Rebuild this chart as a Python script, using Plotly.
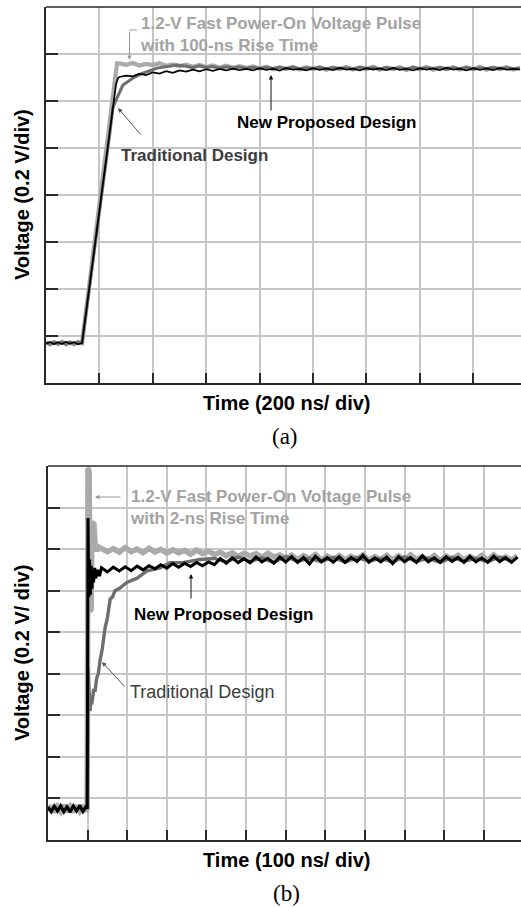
import plotly.graph_objects as go

W, H = 521, 907

# ---------------- (a) 100-ns rise time : 200 ns/div, 0.2 V/div ----------------
a_base_t = [0, 15, 30, 45, 60, 75, 90, 105, 120, 135]
a_tail_t = [275, 300, 325, 350, 375, 400, 425, 450, 475, 500,
            525, 550, 575, 600, 625, 650, 675, 700, 725, 750,
            775, 800, 825, 850, 875, 900, 925, 950, 975, 1000,
            1025, 1050, 1075, 1100, 1125, 1150, 1175, 1200, 1225, 1250,
            1275, 1300, 1325, 1350, 1375, 1400, 1425, 1450, 1475, 1500,
            1525, 1550, 1575, 1600, 1625, 1650, 1675, 1700, 1725, 1750, 1775]

# input pulse (light grey)
a_in_base = [0.004, -0.006, 0.005, -0.004, 0.006, -0.005, 0.003, -0.006, 0.005, 0.0]
a_in_rise_t = [266]
a_in_rise_v = [1.19]
a_in_tail = [1.190, 1.184, 1.192, 1.181, 1.188, 1.183, 1.191, 1.180, 1.186, 1.179,
             1.185, 1.176, 1.183, 1.174, 1.181, 1.172, 1.180, 1.171, 1.178, 1.170,
             1.177, 1.168, 1.176, 1.165, 1.174, 1.167, 1.175, 1.164, 1.173, 1.166,
             1.174, 1.163, 1.172, 1.166, 1.175, 1.164, 1.173, 1.165, 1.176, 1.163,
             1.172, 1.166, 1.174, 1.162, 1.173, 1.165, 1.175, 1.163, 1.172, 1.166,
             1.174, 1.164, 1.173, 1.165, 1.176, 1.163, 1.172, 1.167, 1.174, 1.164, 1.171]

# new proposed design (black)
a_new_base = [-0.003, 0.005, -0.005, 0.004, -0.004, 0.006, -0.003, 0.004, -0.005, 0.0]
a_new_rise_t = [262, 270]
a_new_rise_v = [1.10, 1.128]
a_new_tail = [1.132, 1.138, 1.135, 1.146, 1.140, 1.152, 1.147, 1.157, 1.150, 1.160,
              1.155, 1.163, 1.156, 1.165, 1.158, 1.166, 1.160, 1.168, 1.161, 1.167,
              1.160, 1.170, 1.162, 1.168, 1.159, 1.171, 1.163, 1.167, 1.160, 1.170,
              1.162, 1.169, 1.161, 1.172, 1.163, 1.168, 1.160, 1.170, 1.164, 1.169,
              1.161, 1.171, 1.162, 1.168, 1.160, 1.170, 1.163, 1.169, 1.161, 1.172,
              1.163, 1.168, 1.160, 1.170, 1.162, 1.169, 1.161, 1.171, 1.163, 1.167, 1.164]

# traditional design (dark grey)
a_trad_base = [0.002, -0.004, 0.004, -0.003, 0.003, -0.004, 0.004, -0.002, 0.003, 0.0]
a_trad_knee_t = [240, 251, 266, 288, 326, 363, 416, 491]
a_trad_knee_v = [0.90, 1.004, 1.043, 1.098, 1.128, 1.149, 1.170, 1.183]
a_trad_tail_t = [525, 550, 575, 600, 625, 650, 675, 700, 725, 750,
                 775, 800, 825, 850, 875, 900, 925, 950, 975, 1000,
                 1025, 1050, 1075, 1100, 1125, 1150, 1175, 1200, 1225, 1250,
                 1275, 1300, 1325, 1350, 1375, 1400, 1425, 1450, 1475, 1500,
                 1525, 1550, 1575, 1600, 1625, 1650, 1675, 1700, 1725, 1750, 1775]
a_trad_tail = [1.178, 1.172, 1.180, 1.173, 1.177, 1.170, 1.176, 1.171, 1.175, 1.169,
               1.174, 1.167, 1.173, 1.168, 1.172, 1.166, 1.174, 1.167, 1.171, 1.168,
               1.173, 1.166, 1.172, 1.167, 1.170, 1.165, 1.173, 1.168, 1.171, 1.166,
               1.172, 1.167, 1.170, 1.165, 1.173, 1.166, 1.171, 1.168, 1.172, 1.165,
               1.171, 1.167, 1.173, 1.166, 1.170, 1.168, 1.172, 1.165, 1.171, 1.167, 1.169]

# ---------------- (b) 2-ns rise time : 100 ns/div, 0.2 V/div ----------------
b_base_t = [0, 8, 16, 24, 32, 40, 48, 56, 64, 72, 80, 88, 96, 99]
b_tail_t = [135, 150, 165, 180, 195, 210, 225, 240, 255, 270,
            285, 300, 315, 330, 345, 360, 375, 390, 405, 420,
            435, 450, 465, 480, 495, 510, 525, 540, 555, 570,
            585, 600, 615, 630, 645, 660, 675, 690, 705, 720,
            735, 750, 765, 780, 795, 810, 825, 840, 855, 870,
            885, 900, 915, 930, 945, 960, 975, 990, 1005, 1020,
            1035, 1050, 1065, 1080, 1095, 1110, 1125, 1140, 1155, 1170, 1185]

b_in_base = [-0.012, 0.014, -0.016, 0.010, -0.013, 0.017, -0.014, 0.010, -0.016, 0.015, -0.010, 0.016, -0.012, 0.0]
b_in_edge_t = [101, 104, 106, 109, 111, 116, 119, 123, 128]
b_in_edge_v = [1.64, 1.62, 0.95, 0.96, 1.38, 1.37, 1.27, 1.24, 1.26]
b_in_tail = [1.255, 1.238, 1.252, 1.235, 1.257, 1.238, 1.250, 1.233, 1.254, 1.236,
             1.249, 1.231, 1.246, 1.232, 1.244, 1.226, 1.246, 1.228, 1.240, 1.224,
             1.235, 1.218, 1.232, 1.214, 1.230, 1.217, 1.228, 1.210, 1.230, 1.212,
             1.222, 1.203, 1.220, 1.200, 1.218, 1.204, 1.224, 1.196, 1.216, 1.200,
             1.219, 1.198, 1.215, 1.202, 1.222, 1.196, 1.214, 1.200, 1.220, 1.198,
             1.217, 1.196, 1.222, 1.200, 1.214, 1.197, 1.219, 1.195, 1.216, 1.201,
             1.220, 1.197, 1.215, 1.199, 1.219, 1.196, 1.222, 1.199, 1.213, 1.197, 1.217]

b_new_base = [0.008, -0.014, 0.012, -0.010, 0.015, -0.013, 0.009, -0.016, 0.013, -0.009, 0.016, -0.012, 0.010, 0.0]
b_new_edge_t = [101, 103, 105, 107, 109, 111, 113, 115, 118, 121, 125, 130]
b_new_edge_v = [1.40, 1.02, 1.20, 1.03, 1.17, 1.06, 1.15, 1.09, 1.16, 1.11, 1.15, 1.12]
b_new_tail = [1.160, 1.140, 1.163, 1.145, 1.165, 1.146, 1.168, 1.150, 1.170, 1.155,
              1.175, 1.158, 1.180, 1.163, 1.182, 1.166, 1.186, 1.170, 1.188, 1.175,
              1.205, 1.182, 1.208, 1.185, 1.204, 1.184, 1.212, 1.188, 1.206, 1.182,
              1.212, 1.188, 1.214, 1.186, 1.210, 1.178, 1.216, 1.190, 1.209, 1.187,
              1.213, 1.186, 1.210, 1.190, 1.220, 1.187, 1.208, 1.189, 1.212, 1.180,
              1.214, 1.190, 1.209, 1.186, 1.218, 1.189, 1.208, 1.187, 1.213, 1.191,
              1.210, 1.186, 1.215, 1.189, 1.207, 1.187, 1.216, 1.190, 1.209, 1.186, 1.211]

b_trad_base = [0.008, -0.012, 0.014, -0.010, 0.012, -0.015, 0.010, -0.008, 0.013, -0.011, 0.009, -0.013, 0.011, 0.0]
b_trad_edge_t = [101, 103, 106, 108, 111, 115, 119, 123, 127, 131, 137, 144, 150, 157,
                 163, 169, 180, 199, 225, 250, 283, 308, 340, 384]
b_trad_edge_v = [0.68, 0.54, 0.47, 0.51, 0.51, 0.57, 0.57, 0.63, 0.65, 0.71, 0.77, 0.87, 0.92, 1.01,
                 1.02, 1.05, 1.06, 1.09, 1.11, 1.145, 1.16, 1.185, 1.185, 1.20]
b_trad_tail_t = [420, 450, 480, 510, 540, 570, 600, 630, 660, 690, 720, 750, 780,
                 810, 840, 870, 900, 930, 960, 990, 1020, 1050, 1080, 1110, 1140, 1170]
b_trad_tail = [1.205, 1.188, 1.212, 1.190, 1.208, 1.186, 1.214, 1.192, 1.206, 1.189, 1.211, 1.187, 1.209,
               1.193, 1.204, 1.188, 1.213, 1.191, 1.207, 1.186, 1.210, 1.192, 1.205, 1.189, 1.212, 1.194]

# ---------------- styling ----------------
C_IN, C_TRAD, C_NEW = "#aaaaaa", "#6e6e6e", "#000000"
SANS = "Liberation Sans, Arial, sans-serif"
SERIF = "Liberation Serif, Times New Roman, serif"

fig = go.Figure()

def add(xs, ys, color, width, xa, ya):
    fig.add_trace(go.Scatter(x=xs, y=ys, mode="lines", line=dict(color=color, width=width),
                             xaxis=xa, yaxis=ya, showlegend=False, hoverinfo="skip"))

# (a)
add(a_base_t + a_in_rise_t + a_tail_t, a_in_base + a_in_rise_v + a_in_tail, C_IN, 4.2, "x", "y")
add(a_base_t + a_trad_knee_t + a_trad_tail_t, a_trad_base + a_trad_knee_v + a_trad_tail, C_TRAD, 3, "x", "y")
add(a_base_t + a_new_rise_t + a_tail_t, a_new_base + a_new_rise_v + a_new_tail, C_NEW, 1.7, "x", "y")
# (b)
add(b_base_t + b_in_edge_t + b_tail_t, b_in_base + b_in_edge_v + b_in_tail, C_IN, 5.5, "x2", "y2")
add(b_base_t + b_trad_edge_t + b_trad_tail_t, b_trad_base + b_trad_edge_v + b_trad_tail, C_TRAD, 3.4, "x2", "y2")
add(b_base_t + b_new_edge_t + b_tail_t, b_new_base + b_new_edge_v + b_new_tail, C_NEW, 3, "x2", "y2")

def px(x):
    return x / W

def py(y):
    return 1 - y / H

axis_common = dict(showgrid=True, gridcolor="#c6c6c6", gridwidth=1.5, showline=True,
                   linecolor="#2a2a2a", linewidth=1.5, ticks="inside", tickcolor="#2a2a2a",
                   tickwidth=1.5, showticklabels=False, zeroline=False, fixedrange=True,
                   tickmode="linear")

fig.update_layout(
    width=W, height=H, margin=dict(l=0, r=0, t=0, b=0),
    paper_bgcolor="white", plot_bgcolor="white",
    xaxis=dict(axis_common, domain=[px(46), 1], anchor="y", range=[0, 1779], tick0=0, dtick=200, ticklen=10),
    yaxis=dict(axis_common, domain=[py(383), py(7)], anchor="x", range=[-0.17, 1.43], tick0=-0.17, dtick=0.2, ticklen=12),
    xaxis2=dict(axis_common, domain=[px(48), 1], anchor="y2", range=[0, 1194], tick0=0, dtick=100, ticklen=10),
    yaxis2=dict(axis_common, domain=[py(840), py(466)], anchor="x2", range=[-0.15, 1.65], tick0=-0.15, dtick=0.2, ticklen=12),
)

# top borders
for xr, yr in (("x domain", "y domain"), ("x2 domain", "y2 domain")):
    fig.add_shape(type="line", xref=xr, yref=yr, x0=0, x1=1, y0=1, y1=1,
                  line=dict(color="#2a2a2a", width=1.5))

# leader stub for grey label (a)
fig.add_shape(type="line", xref="paper", yref="paper", x0=px(129.5), x1=px(137), y0=py(30), y1=py(30),
              line=dict(color="#999999", width=1))

def text(x, y, s, size=17, color="#000", family=SANS, angle=0, xanchor="left"):
    fig.add_annotation(x=px(x), y=py(y), xref="paper", yref="paper", text=s, showarrow=False,
                       xanchor=xanchor, yanchor="middle", align="left", textangle=angle,
                       font=dict(family=family, size=size, color=color))

def arrow(hx, hy, tx, ty, color):
    fig.add_annotation(x=px(hx), y=py(hy), xref="paper", yref="paper", text="", showarrow=True,
                       ax=tx - hx, ay=ty - hy, arrowhead=2, arrowsize=0.9, arrowwidth=1,
                       arrowcolor=color)

# (a) labels
text(138, 34.5, "<b>1.2-V Fast Power-On Voltage Pulse</b><br><b>with 100-ns Rise Time</b>", color="#a3a3a3")
arrow(129.5, 60, 129.5, 30, "#999999")
text(235, 122, "<b>New Proposed Design</b>")
arrow(271, 75, 271, 112, "#111111")
text(119, 156, "<b>Traditional Design</b>", color="#3c3c3c")
arrow(118, 108, 142, 136, "#555555")

text(22, 195, "<b>Voltage (0.2 V/div)</b>", size=20, angle=-90, xanchor="center")
text(286, 403, "<b>Time (200 ns/ div)</b>", size=20, xanchor="center")
text(285, 436, "(a)", size=23, family=SERIF, xanchor="center")

# (b) labels
text(128, 507, "<b>1.2-V Fast Power-On Voltage Pulse</b><br><b>with 2-ns Rise Time</b>", color="#a3a3a3")
arrow(95, 497, 122, 497, "#999999")
text(132, 614, "<b>New Proposed Design</b>")
arrow(191, 574, 191, 600, "#111111")
text(128, 692, "Traditional Design", size=18, color="#3c3c3c")
arrow(102, 662, 126, 688, "#555555")

text(22, 653, "<b>Voltage (0.2 V/ div)</b>", size=20, angle=-90, xanchor="center")
text(286, 860, "<b>Time (100 ns/ div)</b>", size=20, xanchor="center")
text(286, 893, "(b)", size=23, family=SERIF, xanchor="center")

fig.write_html("out.html", config={"displayModeBar": False},
               post_script="document.body.style.margin='0px';document.body.style.overflow='hidden';")
